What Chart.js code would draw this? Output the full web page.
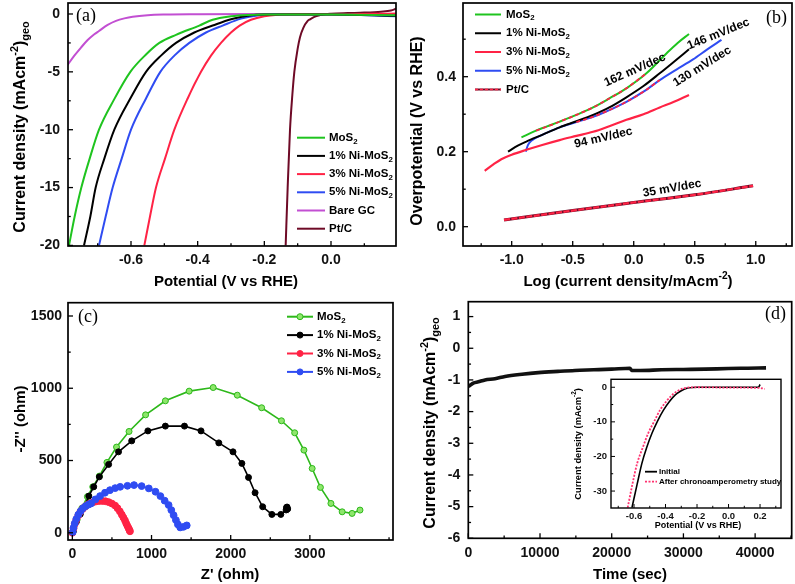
<!DOCTYPE html>
<html>
<head>
<meta charset="utf-8">
<script src="https://cdn.jsdelivr.net/npm/chart.js@4.4.1/dist/chart.umd.min.js"></script>
<style>
  html, body { margin: 0; padding: 0; background: #fff; }
  #wrap { position: relative; width: 795px; height: 584px; overflow: hidden; background: #fff; }
  canvas { position: absolute; }
</style>
</head>
<body>
<div id="wrap">
  <canvas id="chartA"></canvas>
  <canvas id="chartB"></canvas>
  <canvas id="chartC"></canvas>
  <canvas id="chartD"></canvas>
  <canvas id="chartInset"></canvas>
</div>
<script>
// ---- series names ----
const namesA = ['MoS_{2}', '1% Ni-MoS_{2}', '3% Ni-MoS_{2}', '5% Ni-MoS_{2}', 'Bare GC', 'Pt/C'];
const namesB = ['MoS_{2}', '1% Ni-MoS_{2}', '3% Ni-MoS_{2}', '5% Ni-MoS_{2}', 'Pt/C'];
const namesC = ['MoS_{2}', '1% Ni-MoS_{2}', '3% Ni-MoS_{2}', '5% Ni-MoS_{2}'];
const namesInset = ['Initial', 'After chronoamperometry study'];

// ---- (a) polarisation curves: potential (V vs RHE) / current density ----
const aMoS2V = [-0.786, -0.769, -0.749, -0.724, -0.696, -0.651, -0.602, -0.555, -0.515, -0.465, -0.395, -0.355, -0.30, -0.25, -0.20, 0.0, 0.195];
const aMoS2J = [-20, -17.5, -15, -12.5, -10, -7.4, -5, -3.5, -2.5, -1.8, -1.0, -0.5, -0.2, -0.08, -0.05, -0.05, -0.1];
const aNi1V = [-0.741, -0.722, -0.706, -0.68, -0.65, -0.60, -0.555, -0.51, -0.465, -0.41, -0.355, -0.30, -0.25, -0.20, 0.0, 0.195];
const aNi1J = [-20, -17.5, -15, -12.5, -10, -7.2, -5, -3.6, -2.5, -1.6, -1.0, -0.45, -0.15, -0.05, -0.05, -0.15];
const aNi3V = [-0.56, -0.543, -0.525, -0.498, -0.47, -0.43, -0.39, -0.36, -0.33, -0.30, -0.274, -0.24, -0.20, -0.16, -0.10, 0.0, 0.195];
const aNi3J = [-20, -17.5, -15, -12.5, -10, -7.3, -5, -3.6, -2.5, -1.6, -1.0, -0.5, -0.2, -0.07, -0.03, -0.03, 0.05];
const aNi5V = [-0.696, -0.676, -0.655, -0.628, -0.60, -0.555, -0.512, -0.47, -0.425, -0.375, -0.325, -0.27, -0.22, -0.15, 0.0, 0.195];
const aNi5J = [-20, -17.5, -15, -12.5, -10, -7.3, -5, -3.6, -2.5, -1.6, -1.0, -0.4, -0.12, -0.05, -0.05, -0.2];
const aGcV = [-0.79, -0.77, -0.75, -0.73, -0.71, -0.696, -0.67, -0.645, -0.62, -0.595, -0.55, -0.495, -0.4, -0.2, 0.0, 0.195];
const aGcJ = [-4.4, -3.6, -2.9, -2.25, -1.75, -1.47, -0.95, -0.6, -0.38, -0.23, -0.1, -0.05, -0.03, -0.01, 0, 0];
const aPtV = [-0.136, -0.13, -0.123, -0.116, -0.11, -0.10, -0.093, -0.083, -0.07, -0.063, -0.05, -0.033, -0.015, 0.0, 0.05, 0.1, 0.15, 0.18, 0.195];
const aPtJ = [-20, -15, -10, -7, -5, -3, -2, -1.2, -0.6, -0.46, -0.25, -0.1, 0, 0.03, 0.08, 0.12, 0.2, 0.3, 0.45];

// ---- (b) Tafel plots: log j / overpotential ----
const bMoS2X = [-0.92, -0.8, -0.607, -0.47, -0.333, -0.2, -0.06, 0.104, 0.268, 0.36, 0.453];
const bMoS2Y = [0.238, 0.256, 0.28, 0.298, 0.318, 0.342, 0.369, 0.409, 0.462, 0.49, 0.514];
const bNi1X = [-1.03, -0.95, -0.88, -0.75, -0.607, -0.47, -0.333, -0.2, -0.06, 0.08, 0.213, 0.33, 0.453];
const bNi1Y = [0.2, 0.216, 0.227, 0.245, 0.265, 0.281, 0.298, 0.318, 0.345, 0.375, 0.409, 0.44, 0.473];
const bNi3X = [-1.221, -1.15, -1.085, -1.0, -0.88, -0.75, -0.607, -0.47, -0.333, -0.2, -0.06, 0.08, 0.213, 0.33, 0.453];
const bNi3Y = [0.149, 0.166, 0.18, 0.192, 0.205, 0.218, 0.231, 0.242, 0.253, 0.268, 0.285, 0.3, 0.318, 0.333, 0.351];
const bNi5X = [-0.885, -0.866, -0.839, -0.75, -0.607, -0.47, -0.333, -0.2, -0.06, 0.08, 0.213, 0.35, 0.486, 0.6, 0.719];
const bNi5Y = [0.2, 0.218, 0.229, 0.245, 0.265, 0.279, 0.293, 0.311, 0.333, 0.36, 0.391, 0.419, 0.446, 0.472, 0.498];
const bPtX = [-1.063, -0.5, -0.06, 0.5, 0.978];
const bPtY = [0.018, 0.043, 0.062, 0.085, 0.109];
// log j ranges of the dashed linear Tafel regions
const bFitMoS2Range = [-0.8, 0.11];
const bFitNi5Range = [-0.48, 0.22];
const bSlopeText = ['162 mV/dec', '146 mV/dec', '130 mV/dec', '94 mV/dec', '35 mV/dec'];
const bSlopeX = [0.01, 0.694, 0.561, -0.248, 0.314];
const bSlopeY = [0.418, 0.514, 0.427, 0.237, 0.102];
const bSlopeAngle = [-24, -22, -32, -13, -10];

// ---- (c) Nyquist plots: Z' / -Z'' (ohm) ----
const cMoS2Z1 = [10, 60, 120, 190, 258, 341, 437, 558, 716, 925, 1175, 1475, 1779, 2083, 2391, 2641, 2808, 2925, 3029, 3133, 3266, 3408, 3533, 3633];
const cMoS2Z2 = [8, 90, 170, 250, 318, 392, 487, 593, 701, 816, 913, 980, 1005, 952, 865, 775, 692, 572, 445, 314, 203, 145, 134, 157];
const cNi1Z1 = [10, 50, 100, 154, 208, 270, 341, 458, 583, 750, 954, 1175, 1416, 1625, 1850, 2029, 2141, 2225, 2308, 2404, 2520, 2633, 2700, 2712, 2720, 2705];
const cNi1Z2 = [8, 76, 129, 180, 254, 318, 387, 473, 560, 636, 705, 738, 738, 705, 622, 560, 480, 383, 277, 180, 127, 127, 158, 178, 165, 175];
const cNi3Z1 = [0, 15, 30, 50, 75, 100, 130, 160, 195, 230, 265, 300, 340, 380, 420, 460, 500, 540, 570, 600, 625, 645, 665, 680, 695, 710, 720, 728];
const cNi3Z2 = [0, 30, 60, 90, 120, 145, 165, 180, 195, 205, 212, 217, 220, 220, 218, 212, 202, 188, 170, 148, 125, 105, 85, 65, 48, 32, 20, 10];
const cNi5Z1 = [5, 15, 30, 50, 75, 105, 135, 170, 205, 237, 291, 350, 412, 475, 541, 604, 696, 779, 875, 966, 1050, 1112, 1166, 1216, 1250, 1279, 1308, 1333, 1362, 1404, 1445];
const cNi5Z2 = [5, 35, 65, 95, 125, 150, 170, 185, 195, 203, 231, 254, 277, 295, 309, 318, 325, 330, 323, 307, 284, 254, 222, 192, 157, 122, 88, 58, 37, 41, 51];

// ---- (d) chronoamperometry: time (s) / current density ----
const dTime = [0, 300, 700, 1400, 2330, 3720, 5120, 7500, 9760, 12500, 14870, 17500, 19980, 22540, 22770, 24000, 26950, 30000, 33000, 36250, 39000, 41520];
const dJ = [-1.21, -1.16, -1.10, -1.06, -1.0, -0.96, -0.89, -0.82, -0.77, -0.73, -0.70, -0.68, -0.66, -0.63, -0.70, -0.70, -0.68, -0.67, -0.66, -0.64, -0.63, -0.62];
// inset polarisation curves
const insInitV = [-0.613, -0.58, -0.55, -0.52, -0.486, -0.45, -0.413, -0.375, -0.338, -0.30, -0.264, -0.23, -0.2, 0.0, 0.19, 0.2];
const insInitJ = [-34.8, -28, -22, -17.5, -13.3, -9.7, -6.6, -4.1, -2.2, -1.0, -0.3, -0.05, 0, 0, 0, 0.8];
const insAfterV = [-0.64, -0.61, -0.58, -0.545, -0.51, -0.47, -0.435, -0.395, -0.357, -0.32, -0.285, -0.25, -0.2, 0.0, 0.2, 0.23];
const insAfterJ = [-34.8, -28, -22, -17.5, -13.3, -9.7, -6.6, -4.1, -2.2, -1.0, -0.3, -0.05, 0, -0.1, -0.2, -0.5];

// ---- tick labels ----
const aXTicks = [-0.6, -0.4, -0.2, 0.0];
const aYTicks = [-20, -15, -10, -5, 0];
const bXTicks = [-1.0, -0.5, 0.0, 0.5, 1.0];
const bYTicks = [0.0, 0.2, 0.4];
const cXTicks = [0, 1000, 2000, 3000];
const cYTicks = [0, 500, 1000, 1500];
const dXTicks = [0, 10000, 20000, 30000, 40000];
const dYTicks = [-6, -5, -4, -3, -2, -1, 0, 1];
const insXTicks = [-0.6, -0.4, -0.2, 0.0, 0.2];
const insYTicks = [-30, -20, -10, 0];

// ---- colours ----
const GREEN = '#1fc41f', BLACK = '#000000', RED = '#ff2345', BLUE = '#2f4cf2', VIOLET = '#c24fd2', MAROON = '#6e0a26';

const SANS = '"Liberation Sans", Arial, sans-serif';
const SERIF = '"Liberation Serif", "Times New Roman", serif';

function pts(xs, ys) { return xs.map((x, i) => ({ x: x, y: ys[i] })); }
function ptsIn(xs, ys, range) { return pts(xs, ys).filter(p => p.x >= range[0] && p.x <= range[1]); }

// text with _{sub} and ^{sup} parts
function richParts(str) {
  const parts = []; const re = /([_^])\{([^}]*)\}/g; let last = 0, m;
  while ((m = re.exec(str))) {
    if (m.index > last) parts.push([str.slice(last, m.index), 0]);
    parts.push([m[2], m[1] === '^' ? 1 : -1]);
    last = re.lastIndex;
  }
  if (last < str.length) parts.push([str.slice(last), 0]);
  return parts;
}
function drawRich(ctx, str, x, y, size, align, rot, font) {
  const parts = richParts(str);
  const fam = font || SANS;
  ctx.save();
  ctx.translate(x, y);
  ctx.rotate(rot || 0);
  ctx.fillStyle = '#000';
  ctx.textBaseline = 'middle';
  ctx.textAlign = 'left';
  let w = 0;
  parts.forEach(p => { ctx.font = 'bold ' + (p[1] ? size * 0.68 : size) + 'px ' + fam; w += ctx.measureText(p[0]).width; });
  let cx = align === 'center' ? -w / 2 : (align === 'right' ? -w : 0);
  parts.forEach(p => {
    ctx.font = 'bold ' + (p[1] ? size * 0.68 : size) + 'px ' + fam;
    const dy = p[1] === 1 ? -size * 0.38 : (p[1] === -1 ? size * 0.32 : 0);
    ctx.fillText(p[0], cx, dy);
    cx += ctx.measureText(p[0]).width;
  });
  ctx.restore();
}

// frame, inward ticks, titles, legend and notes
function decoPlugin(cfg) {
  return {
    id: 'deco',
    afterDraw(chart) {
      const ctx = chart.ctx, a = chart.chartArea, xs = chart.scales.x, ys = chart.scales.y;
      const ox = cfg.rect.x, oy = cfg.rect.y;
      ctx.save();
      ctx.strokeStyle = '#000';
      ctx.lineWidth = cfg.tickW || 1.3;
      const drawTicks = (scale, major, step, horiz) => {
        const start = Math.ceil(scale.min / step - 1e-6) * step;
        for (let v = start; v <= scale.max + 1e-9; v += step) {
          const isMajor = major.some(m => Math.abs(m - v) < step * 0.01);
          const len = isMajor ? cfg.tickLen : cfg.tickLen * 0.55;
          const p = scale.getPixelForValue(v);
          ctx.beginPath();
          if (horiz) { ctx.moveTo(p, a.bottom); ctx.lineTo(p, a.bottom - len); }
          else { ctx.moveTo(a.left, p); ctx.lineTo(a.left + len, p); }
          ctx.stroke();
        }
      };
      drawTicks(xs, cfg.xMajor, cfg.xMinor, true);
      drawTicks(ys, cfg.yMajor, cfg.yMinor, false);
      ctx.lineWidth = cfg.frameW || 1.7;
      ctx.strokeRect(a.left, a.top, a.right - a.left, a.bottom - a.top);

      // axis titles
      drawRich(ctx, cfg.xTitle.text, cfg.xTitle.x - ox, cfg.xTitle.y - oy, cfg.xTitle.size, 'center', 0);
      drawRich(ctx, cfg.yTitle.text, cfg.yTitle.x - ox, cfg.yTitle.y - oy, cfg.yTitle.size, 'center', -Math.PI / 2);

      // panel letter
      if (cfg.letter) {
        ctx.fillStyle = '#000';
        ctx.font = cfg.letter.size + 'px ' + SERIF;
        ctx.textBaseline = 'alphabetic';
        ctx.textAlign = 'left';
        ctx.fillText(cfg.letter.text, cfg.letter.x - ox, cfg.letter.y - oy);
      }

      // legend from labelled datasets
      if (cfg.legend) {
        const L = cfg.legend;
        const items = chart.data.datasets.filter(d => d.label);
        items.forEach((d, i) => {
          const y = L.y + i * L.dy - oy, x0 = L.x - ox, x1 = x0 + L.len;
          ctx.save();
          ctx.strokeStyle = d.borderColor;
          ctx.lineWidth = L.lineW || 2;
          ctx.setLineDash(d.borderDash || []);
          ctx.beginPath(); ctx.moveTo(x0, y); ctx.lineTo(x1, y); ctx.stroke();
          if (d.legendOverlay) {
            ctx.strokeStyle = d.legendOverlay; ctx.setLineDash([3, 2]); ctx.lineWidth = 1.3;
            ctx.beginPath(); ctx.moveTo(x0, y); ctx.lineTo(x1, y); ctx.stroke();
          }
          if (L.marker) {
            ctx.setLineDash([]);
            ctx.fillStyle = d.pointBackgroundColor || d.borderColor;
            ctx.strokeStyle = d.pointBorderColor || d.borderColor;
            ctx.lineWidth = 1;
            ctx.beginPath(); ctx.arc((x0 + x1) / 2, y, 3, 0, Math.PI * 2); ctx.fill(); ctx.stroke();
          }
          ctx.restore();
          drawRich(ctx, d.label, x1 + L.gap, y, L.size, 'left', 0);
        });
      }

      // slope notes positioned in data units
      if (cfg.notes) {
        cfg.notes.text.forEach((t, i) => {
          drawRich(ctx, t, xs.getPixelForValue(cfg.notes.x[i]), ys.getPixelForValue(cfg.notes.y[i]),
            cfg.notes.size, 'center', cfg.notes.angle[i] * Math.PI / 180);
        });
      }
      ctx.restore();
    }
  };
}

function makePanel(id, cfg, datasets) {
  const cv = document.getElementById(id);
  const r = cfg.rect, f = cfg.frame;
  cv.width = r.w; cv.height = r.h;
  cv.style.left = r.x + 'px'; cv.style.top = r.y + 'px';
  const yW = f.l - r.x, xH = r.y + r.h - f.b;
  const zeroPad = s => { s.paddingLeft = 0; s.paddingRight = 0; s.paddingTop = 0; s.paddingBottom = 0; };
  const tickFont = { family: SANS, size: cfg.tickSize, weight: 'bold' };
  return new Chart(cv, {
    type: 'scatter',
    data: { datasets: datasets },
    options: {
      responsive: false,
      animation: false,
      devicePixelRatio: 1,
      layout: { padding: { left: 0, top: f.t - r.y, right: r.x + r.w - f.r, bottom: 0 } },
      plugins: { legend: { display: false }, tooltip: { enabled: false } },
      scales: {
        x: {
          type: 'linear', min: cfg.xMin, max: cfg.xMax,
          grid: { display: false, drawTicks: false },
          border: { display: false },
          ticks: { font: tickFont, color: '#111', padding: cfg.xPad, autoSkip: false, maxRotation: 0,
                   callback: cfg.xFmt },
          afterBuildTicks: s => { s.ticks = cfg.xMajor.map(v => ({ value: v })); },
          afterFit: s => { s.height = xH; zeroPad(s); }
        },
        y: {
          type: 'linear', min: cfg.yMin, max: cfg.yMax,
          grid: { display: false, drawTicks: false },
          border: { display: false },
          ticks: { font: tickFont, color: '#111', padding: cfg.yPad, autoSkip: false,
                   callback: cfg.yFmt },
          afterBuildTicks: s => { s.ticks = cfg.yMajor.map(v => ({ value: v })); },
          afterFit: s => { s.width = yW; zeroPad(s); }
        }
      }
    },
    plugins: [decoPlugin(cfg)]
  });
}

function line(label, xs, ys, color, width, extra) {
  return Object.assign({
    label: label, data: pts(xs, ys), showLine: true, borderColor: color, backgroundColor: color,
    borderWidth: width, pointRadius: 0, tension: 0.3, cubicInterpolationMode: 'monotone'
  }, extra || {});
}

const fix1 = v => v.toFixed(1);
const int0 = v => String(v);

// ---- panel (a) ----
makePanel('chartA', {
  rect: { x: 0, y: 0, w: 398, h: 292 }, frame: { l: 68, t: 3, r: 396, b: 246 },
  xMin: -0.789, xMax: 0.195, yMin: -20.05, yMax: 0.95,
  xMajor: aXTicks, xMinor: 0.1, yMajor: aYTicks, yMinor: 2.5, tickLen: 5,
  tickSize: 14, xPad: 6, yPad: 8, xFmt: fix1, yFmt: int0,
  xTitle: { text: 'Potential (V vs RHE)', x: 226, y: 282, size: 15 },
  yTitle: { text: 'Current density (mAcm^{-2})_{geo}', x: 21, y: 127, size: 16 },
  letter: { text: '(a)', x: 76, y: 21, size: 18 },
  legend: { x: 297, y: 137.7, dy: 18.2, len: 28, gap: 4, size: 11.5, lineW: 2 }
}, [
  line(namesA[0], aMoS2V, aMoS2J, GREEN, 2),
  line(namesA[1], aNi1V, aNi1J, BLACK, 2),
  line(namesA[2], aNi3V, aNi3J, RED, 2),
  line(namesA[3], aNi5V, aNi5J, BLUE, 2),
  line(namesA[4], aGcV, aGcJ, VIOLET, 2),
  line(namesA[5], aPtV, aPtJ, MAROON, 2)
]);

// ---- panel (b) ----
makePanel('chartB', {
  rect: { x: 398, y: 0, w: 397, h: 292 }, frame: { l: 463, t: 3, r: 792, b: 246 },
  xMin: -1.399, xMax: 1.297, yMin: -0.0515, yMax: 0.5965,
  xMajor: bXTicks, xMinor: 0.25, yMajor: bYTicks, yMinor: 0.1, tickLen: 5,
  tickSize: 14, xPad: 6, yPad: 7, xFmt: fix1, yFmt: fix1,
  xTitle: { text: 'Log (current density/mAcm^{-2})', x: 628, y: 282, size: 15 },
  yTitle: { text: 'Overpotential (V vs RHE)', x: 418, y: 131, size: 16 },
  letter: { text: '(b)', x: 766, y: 23, size: 18 },
  legend: { x: 475, y: 14.5, dy: 18.75, len: 26, gap: 5, size: 11.5, lineW: 2 },
  notes: { text: bSlopeText, x: bSlopeX, y: bSlopeY, angle: bSlopeAngle, size: 12 }
}, [
  line(namesB[0], bMoS2X, bMoS2Y, GREEN, 2),
  line(namesB[1], bNi1X, bNi1Y, BLACK, 2),
  line(namesB[2], bNi3X, bNi3Y, RED, 2.2),
  line(namesB[3], bNi5X, bNi5Y, BLUE, 2),
  line(namesB[4], bPtX, bPtY, MAROON, 3, { legendOverlay: RED }),
  // dashed linear-fit overlays, drawn on top (lower order)
  Object.assign(line('', [], [], RED, 1.8, { borderDash: [4, 3], order: -1 }), { data: ptsIn(bMoS2X, bMoS2Y, bFitMoS2Range) }),
  Object.assign(line('', [], [], RED, 1.8, { borderDash: [4, 3], order: -1 }), { data: ptsIn(bNi5X, bNi5Y, bFitNi5Range) }),
  line('', bPtX, bPtY, RED, 2.2, { borderDash: [6, 1.5], order: -1 })
]);

// ---- panel (c) ----
function dots(label, xs, ys, color, fill, r, lw, order) {
  return {
    label: label, data: pts(xs, ys), showLine: true, borderColor: color, backgroundColor: color,
    borderWidth: lw, pointRadius: r, pointBackgroundColor: fill, pointBorderColor: color,
    pointBorderWidth: 1, tension: 0, order: order
  };
}
makePanel('chartC', {
  rect: { x: 0, y: 292, w: 398, h: 292 }, frame: { l: 68, t: 302.7, r: 396.7, b: 540 },
  xMin: -55, xMax: 4050, yMin: -50, yMax: 1592,
  xMajor: cXTicks, xMinor: 500, yMajor: cYTicks, yMinor: 250, tickLen: 5,
  tickSize: 14, xPad: 6, yPad: 6, xFmt: int0, yFmt: int0,
  xTitle: { text: "Z' (ohm)", x: 230, y: 575, size: 15 },
  yTitle: { text: "-Z'' (ohm)", x: 21, y: 419, size: 15 },
  letter: { text: '(c)', x: 78, y: 322, size: 18 },
  legend: { x: 287, y: 316.7, dy: 18.4, len: 26, gap: 4, size: 11.5, lineW: 2, marker: true }
}, [
  dots(namesC[0], cMoS2Z1, cMoS2Z2, '#2db81a', '#8ee66c', 3, 1.6, 3),
  dots(namesC[1], cNi1Z1, cNi1Z2, BLACK, BLACK, 3, 1.6, 2),
  dots(namesC[2], cNi3Z1, cNi3Z2, RED, RED, 3.4, 1.6, 1),
  dots(namesC[3], cNi5Z1, cNi5Z2, BLUE, BLUE, 3.4, 1.6, 0)
]);

// ---- panel (d) ----
makePanel('chartD', {
  rect: { x: 398, y: 292, w: 397, h: 292 }, frame: { l: 468.3, t: 301.7, r: 791.7, b: 538.3 },
  xMin: 0, xMax: 45100, yMin: -6, yMax: 1.47,
  xMajor: dXTicks, xMinor: 5000, yMajor: dYTicks, yMinor: 0.5, tickLen: 5,
  tickSize: 14, xPad: 6, yPad: 8, xFmt: int0, yFmt: int0,
  xTitle: { text: 'Time (sec)', x: 630, y: 575, size: 15 },
  yTitle: { text: 'Current density (mAcm^{-2})_{geo}', x: 431, y: 423, size: 16 },
  letter: { text: '(d)', x: 765, y: 319, size: 18 }
}, [
  line('', dTime, dJ, '#111', 3.6, { tension: 0.2 })
]);

// ---- inset of (d) ----
makePanel('chartInset', {
  rect: { x: 562, y: 372, w: 226, h: 160 }, frame: { l: 611, t: 379.3, r: 781, b: 508 },
  xMin: -0.746, xMax: 0.333, yMin: -34.9, yMax: 2.3,
  xMajor: insXTicks, xMinor: 0.1, yMajor: insYTicks, yMinor: 5, tickLen: 4,
  tickSize: 9.5, xPad: 3, yPad: 4, xFmt: fix1, yFmt: int0, frameW: 1.4, tickW: 1,
  xTitle: { text: 'Potential (V vs RHE)', x: 698, y: 525.5, size: 9 },
  yTitle: { text: 'Current density (mAcm^{-2})', x: 578, y: 444, size: 9.3 },
  legend: { x: 645, y: 471.7, dy: 10, len: 12, gap: 2, size: 8, lineW: 1.8 }
}, [
  line(namesInset[0], insInitV, insInitJ, BLACK, 1.6, { order: 1 }),
  line(namesInset[1], insAfterV, insAfterJ, '#ff3370', 1.8, { borderDash: [2, 1.5], order: 0 })
]);
</script>
</body>
</html>
